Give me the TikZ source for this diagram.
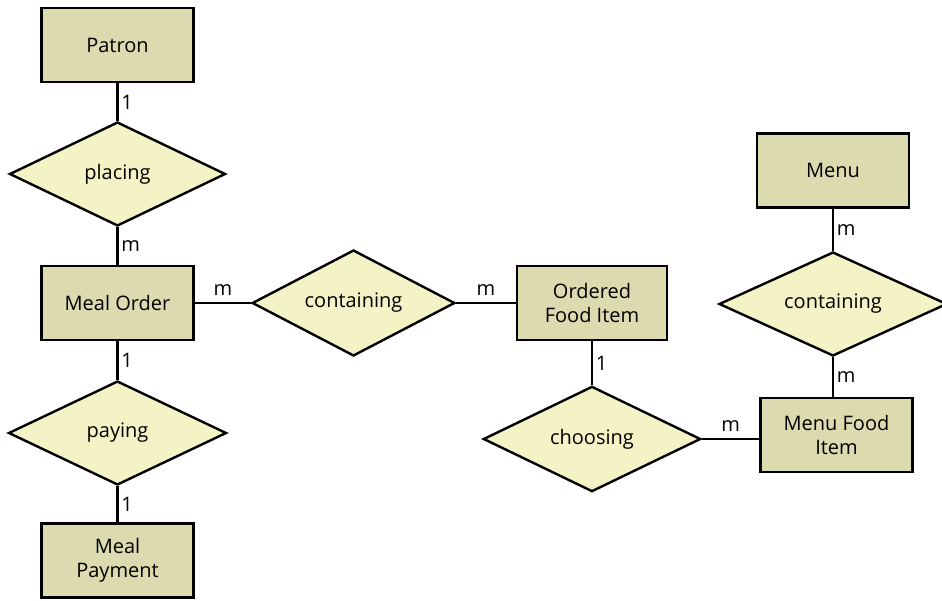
\documentclass[tikz,border=0pt]{standalone}
\usepackage{fontspec}
\setmainfont{Open Sans}
\usepackage{tikz}
\usetikzlibrary{shapes.geometric}
\definecolor{entityfill}{RGB}{219,219,175}
\definecolor{relfill}{RGB}{243,243,197}

\tikzset{
  entity/.style={draw, line width=1.8pt, fill=entityfill, rectangle, align=center,
    minimum width=114pt, minimum height=55.5pt, inner sep=0pt},
  relation/.style={draw, line width=1.8pt, fill=relfill, diamond, aspect=2, inner sep=0pt},
  link/.style={line width=1.8pt},
  card/.style={inner sep=2pt, font=\fontsize{15}{18}\selectfont}
}

\begin{document}
\begin{tikzpicture}[x=0.75pt, y=-0.75pt, font=\fontsize{15}{18}\selectfont]
  \useasboundingbox (0,0) rectangle (942,600);
  % entities
  \node[entity] (patron) at (117.5,45) {Patron};
  \node[entity] (mealorder) at (117.5,303) {Meal Order};
  \node[entity] (mealpayment) at (117.5,560.5) {Meal\\Payment};
  \node[entity, minimum width=112.5pt] (ordered) at (592,303) {Ordered\\Food Item};
  \node[entity] (menu) at (833,170.5) {Menu};
  \node[entity] (menuitem) at (836.5,435) {Menu Food\\Item};
  % relationships
  \node[relation, minimum width=162pt, minimum height=78pt] (placing) at (117.5,174) {placing};
  \node[relation, minimum width=163.5pt, minimum height=78pt] (paying) at (117.5,433) {paying};
  \node[relation, minimum width=152pt, minimum height=79.5pt] (contain1) at (353.5,303) {containing};
  \node[relation, minimum width=163pt, minimum height=79pt] (choosing) at (592,439) {choosing};
  \node[relation, minimum width=171pt, minimum height=78pt] (contain2) at (833,304) {containing};
  % connectors
  \draw[link] (patron) -- node[card, right] {1} (placing);
  \draw[link] (placing) -- node[card, right] {m} (mealorder);
  \draw[link] (mealorder) -- node[card, right] {1} (paying);
  \draw[link] (paying) -- node[card, right] {1} (mealpayment);
  \draw[link] (mealorder) -- node[card, above=3pt] {m} (contain1);
  \draw[link] (contain1) -- node[card, above=3pt] {m} (ordered);
  \draw[link] (ordered) -- node[card, right] {1} (choosing);
  \draw[link] (choosing.east) -- node[card, above=3pt] {m} (choosing.east -| menuitem.west);
  \draw[link] (menu) -- node[card, right] {m} (contain2);
  \draw[link] (contain2.south) -- node[card, right] {m} (contain2.south |- menuitem.north);
\end{tikzpicture}
\end{document}
